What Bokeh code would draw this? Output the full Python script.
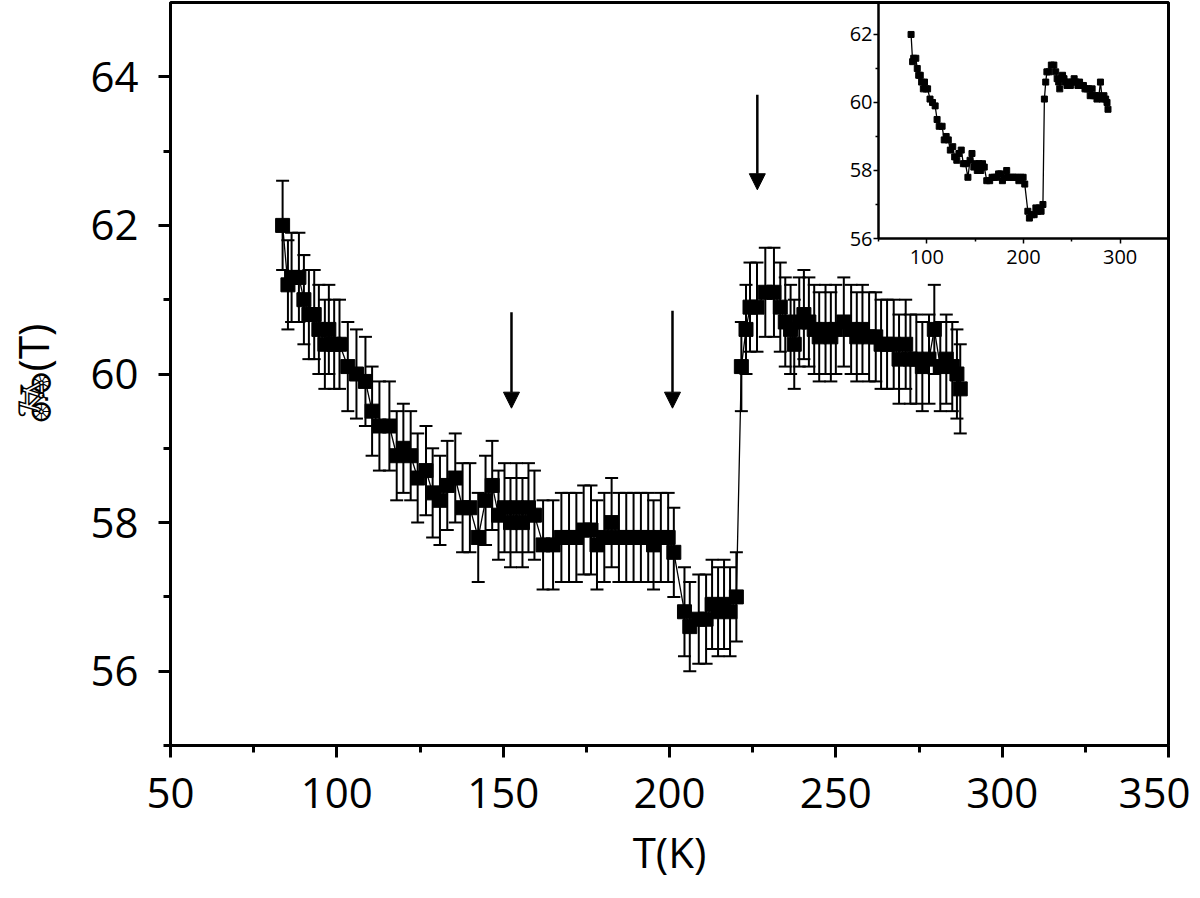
from bokeh.plotting import figure
from bokeh.models import (ColumnDataSource, Whisker, TeeHead, Arrow, NormalHead,
                          FixedTicker, GridBox, Range1d)
from bokeh.embed import file_html
from bokeh.resources import INLINE

# ---- data ----
temps = [83.7, 85.3, 86.4, 88.6, 90.1, 91.6, 93.2, 94.6, 96.4, 97.6,
         99.2, 100.8, 103.3, 105.9, 108.6, 110.6, 112.8, 115.8, 118.0, 120.0,
         122.2, 124.3, 126.8, 128.8, 131.0, 133.2, 135.6, 137.8, 140.0, 142.5,
         144.7, 146.7, 148.6, 150.4, 152.2, 154.0, 155.8, 157.6, 159.4, 162.0,
         165.0, 167.5, 169.8, 172.0, 174.2, 176.4, 178.2, 180.4, 182.6, 184.8,
         187.0, 189.2, 191.4, 193.6, 195.2, 197.4, 199.6, 201.3, 204.5, 206.1,
         208.8, 211.0, 212.8, 214.6, 216.4, 218.2, 220.1, 221.6, 223.0, 224.2,
         226.3, 228.8, 231.4, 233.3, 234.8, 236.4, 237.5, 239.0, 240.4, 241.9,
         243.5, 245.0, 246.9, 248.5, 250.0, 252.4, 254.6, 256.3, 258.0, 260.0,
         262.0, 263.6, 265.4, 267.4, 269.0, 271.0, 272.4, 274.2, 276.0, 278.0,
         279.6, 281.4, 283.2, 285.0, 286.4, 287.4]
field = [62.0, 61.2, 61.3, 61.3, 61.0, 60.8, 60.8, 60.6, 60.4, 60.6,
         60.4, 60.4, 60.1, 60.0, 59.9, 59.5, 59.3, 59.3, 58.9, 59.0,
         58.9, 58.6, 58.7, 58.4, 58.3, 58.5, 58.6, 58.2, 58.2, 57.8,
         58.3, 58.5, 58.1, 58.2, 58.0, 58.2, 58.0, 58.2, 58.1, 57.7,
         57.7, 57.8, 57.8, 57.8, 57.9, 57.9, 57.7, 57.8, 58.0, 57.8,
         57.8, 57.8, 57.8, 57.8, 57.7, 57.8, 57.8, 57.6, 56.8, 56.6,
         56.7, 56.7, 56.9, 56.8, 56.9, 56.8, 57.0, 60.1, 60.6, 60.9,
         60.9, 61.1, 61.1, 60.9, 60.7, 60.6, 60.4, 60.7, 60.8, 60.7,
         60.6, 60.5, 60.6, 60.5, 60.6, 60.7, 60.6, 60.5, 60.6, 60.5,
         60.5, 60.4, 60.4, 60.4, 60.2, 60.4, 60.2, 60.2, 60.1, 60.2,
         60.6, 60.1, 60.2, 60.1, 60.0, 59.8]
error = 0.6  # half-length of every error bar, in T

arrow_x = [152.5, 200.9, 226.4]
arrow_y_start = [60.83, 60.85, 63.76]
arrow_y_end = [59.54, 59.54, 62.48]

x_ticks = [50, 100, 150, 200, 250, 300, 350]
x_minor = [75, 125, 175, 225, 275, 325]
y_ticks = [56, 58, 60, 62, 64]
y_minor = [55, 57, 59, 61, 63]

inset_x_ticks = [100, 200, 300]
inset_x_minor = [50, 150, 250, 350]
inset_y_ticks = [56, 58, 60, 62]
inset_y_minor = [57, 59, 61]

FONT = "Open Sans"

src = ColumnDataSource(data=dict(
    t=temps, b=field,
    upper=[v + error for v in field],
    lower=[v - error for v in field],
))

W, H = 1190, 898

# ---- main figure ----
p = figure(width=W, height=H,
           x_range=Range1d(50, 350), y_range=Range1d(55, 65.0),
           output_backend="svg", toolbar_location=None,
           min_border_left=170, min_border_right=22,
           min_border_top=2, min_border_bottom=H - 745)
p.xgrid.visible = False
p.ygrid.visible = False
p.outline_line_color = "black"
p.outline_line_width = 3
p.outline_line_alpha = 1.0

p.xaxis.ticker = FixedTicker(ticks=x_ticks, minor_ticks=x_minor)
p.yaxis.ticker = FixedTicker(ticks=y_ticks, minor_ticks=y_minor)
for ax in (p.xaxis, p.yaxis):
    ax.axis_line_width = 3
    ax.axis_line_color = "black"
    ax.major_tick_line_width = 3
    ax.minor_tick_line_width = 3
    ax.major_tick_line_color = "black"
    ax.minor_tick_line_color = "black"
    ax.major_tick_out = 12
    ax.major_tick_in = 0
    ax.minor_tick_out = 7
    ax.minor_tick_in = 0
    ax.major_label_text_font = FONT
    ax.major_label_text_font_size = "42px"
    ax.major_label_text_color = "black"
    ax.axis_label_text_font = FONT
    ax.axis_label_text_font_size = "42px"
    ax.axis_label_text_font_style = "normal"
    ax.axis_label_text_color = "black"
p.xaxis.axis_label = "T(K)"
p.yaxis.axis_label = "\U0001F6B2\uFE0E(T)"
p.xaxis.major_label_standoff = 20
p.yaxis.major_label_standoff = 20
p.xaxis.axis_label_standoff = 12
p.yaxis.axis_label_standoff = 26

p.add_layout(Whisker(source=src, base="t", upper="upper", lower="lower",
                     line_color="black", line_width=2,
                     upper_head=TeeHead(size=13, line_width=2, line_color="black"),
                     lower_head=TeeHead(size=13, line_width=2, line_color="black")))
p.line("t", "b", source=src, line_color="black", line_width=1.3)
p.scatter("t", "b", source=src, marker="square", size=14,
          fill_color="black", line_color="black")

arrow_src = ColumnDataSource(data=dict(x0=arrow_x, y0=arrow_y_start,
                                       x1=arrow_x, y1=arrow_y_end))
p.add_layout(Arrow(source=arrow_src, x_start="x0", y_start="y0",
                   x_end="x1", y_end="y1", line_color="black", line_width=2.5,
                   end=NormalHead(size=16, fill_color="black", line_color="black",
                                  line_width=1)))

# ---- inset (top-right corner, sharing the main frame's top and right edges) ----
IL = 830            # left edge of the inset figure
IW, IH = W - IL, 278
ins = figure(width=IW, height=IH,
             x_range=Range1d(50, 350), y_range=Range1d(56, 62.94),
             output_backend="svg", toolbar_location=None,
             min_border_left=48, min_border_right=22,
             min_border_top=2, min_border_bottom=40)
ins.xgrid.visible = False
ins.ygrid.visible = False
ins.border_fill_alpha = 0
ins.background_fill_alpha = 0
ins.outline_line_color = "black"
ins.outline_line_width = 2
ins.outline_line_alpha = 1.0
ins.xaxis.ticker = FixedTicker(ticks=inset_x_ticks, minor_ticks=inset_x_minor)
ins.yaxis.ticker = FixedTicker(ticks=inset_y_ticks, minor_ticks=inset_y_minor)
for ax in (ins.xaxis, ins.yaxis):
    ax.axis_line_width = 2
    ax.axis_line_color = "black"
    ax.major_tick_line_width = 1.5
    ax.minor_tick_line_width = 1.5
    ax.major_tick_out = 5
    ax.major_tick_in = 0
    ax.minor_tick_out = 3
    ax.minor_tick_in = 0
    ax.major_label_text_font = FONT
    ax.major_label_text_font_size = "20px"
    ax.major_label_text_color = "black"
ins.xaxis.major_label_standoff = 6
ins.yaxis.major_label_standoff = 1
ins.line(temps, field, line_color="black", line_width=1.3)
ins.scatter(temps, field, marker="square", size=6,
            fill_color="black", line_color="black")

layout = GridBox(children=[(p, 0, 0, 2, 2), (ins, 0, 1, 1, 1)],
                 rows=[f"{IH}px", f"{H - IH}px"], cols=[f"{IL}px", f"{IW}px"])

open("out.html", "w").write(file_html(layout, INLINE))
